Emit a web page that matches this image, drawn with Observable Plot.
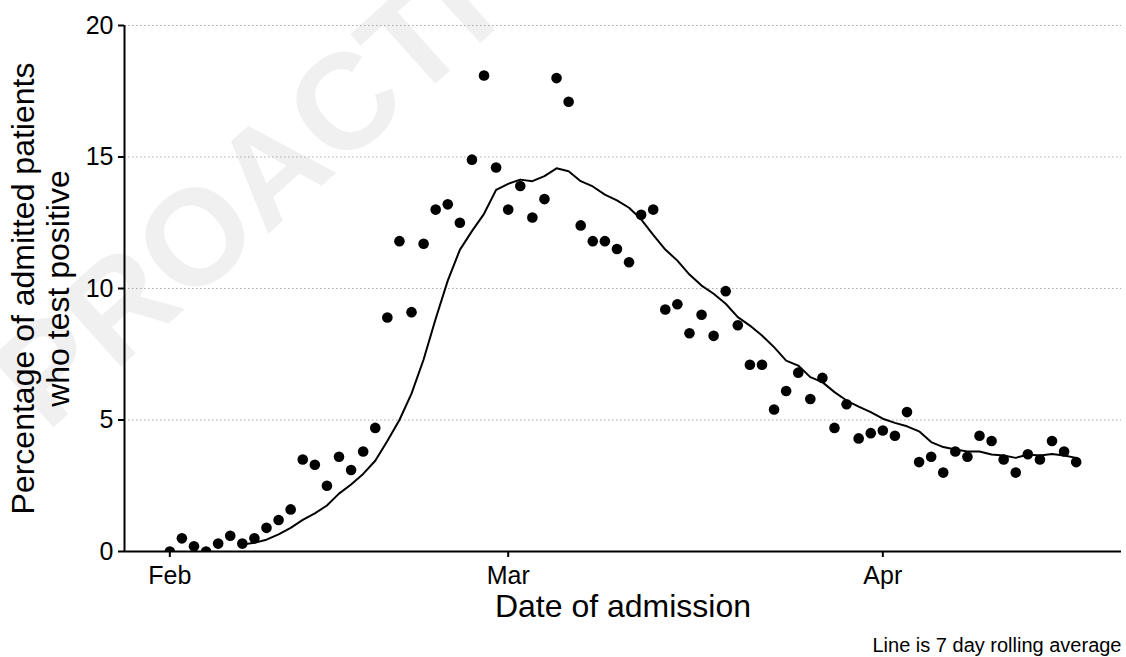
<!DOCTYPE html>
<html>
<head>
<meta charset="utf-8">
<script src="https://cdn.jsdelivr.net/npm/d3@7"></script>
<script src="https://cdn.jsdelivr.net/npm/@observablehq/plot@0.6"></script>
<style>
  html, body { margin: 0; padding: 0; background: white; }
  #chart { width: 1126px; height: 657px; }
</style>
</head>
<body>
<div id="chart"></div>
<script>
// ---- Data ----
const startDate = "2021-02-01"; // first daily point (Feb 1)
const pctPositive = [
  // Feb 1 - Feb 28
  0.0, 0.5, 0.2, 0.0, 0.3, 0.6, 0.3, 0.5, 0.9, 1.2, 1.6, 3.5, 3.3, 2.5,
  3.6, 3.1, 3.8, 4.7, 8.9, 11.8, 9.1, 11.7, 13.0, 13.2, 12.5, 14.9, 18.1, 14.6,
  // Mar 1 - Mar 31
  13.0, 13.9, 12.7, 13.4, 18.0, 17.1, 12.4, 11.8, 11.8, 11.5, 11.0, 12.8, 13.0, 9.2,
  9.4, 8.3, 9.0, 8.2, 9.9, 8.6, 7.1, 7.1, 5.4, 6.1, 6.8, 5.8, 6.6, 4.7, 5.6, 4.3, 4.5,
  // Apr 1 - Apr 17
  4.6, 4.4, 5.3, 3.4, 3.6, 3.0, 3.8, 3.6, 4.4, 4.2, 3.5, 3.0, 3.7, 3.5, 4.2, 3.8, 3.4
];
const lineStartDate = "2021-02-07"; // first day of the 7 day rolling average line
const rollingAvg = [
  // Feb 7 - Feb 28
  0.27, 0.33, 0.45, 0.65, 0.9, 1.2, 1.45, 1.75, 2.2, 2.55, 2.95, 3.45, 4.2, 5.0,
  6.0, 7.3, 8.85, 10.3, 11.47, 12.18, 12.84, 13.75,
  // Mar 1 - Mar 31
  13.98, 14.14, 14.08, 14.27, 14.57, 14.46, 14.08, 13.88, 13.57, 13.35, 13.07, 12.63,
  12.04, 11.48, 11.06, 10.53, 10.11, 9.8, 9.42, 8.91, 8.59, 8.21, 7.77, 7.26, 7.07,
  6.63, 6.44, 6.06, 5.74, 5.51, 5.3,
  // Apr 1 - Apr 17
  5.05, 4.89, 4.76, 4.57, 4.16, 3.97, 3.88, 3.8, 3.8, 3.69, 3.65, 3.56, 3.69, 3.65,
  3.71, 3.65, 3.56
];
const yTicks = [0, 5, 10, 15, 20];
const gridLines = [5, 10, 15, 20];
const xTickDates = ["2021-02-01", "2021-03-01", "2021-04-01"];
const xTickLabels = ["Feb", "Mar", "Apr"];
const yTitle = "Percentage of admitted patients\nwho test positive";
const xTitle = "Date of admission";
const captionText = "Line is 7 day rolling average";
const watermark = "PROACTIVE";

// ---- Build tables ----
const DAY = 864e5;
const start = new Date(startDate);
const points = pctPositive.map((v, i) => ({ date: d3.utcDay.offset(start, i), value: v }));
const lineStart = new Date(lineStartDate);
const roll = rollingAvg.map((v, i) => ({ date: d3.utcDay.offset(lineStart, i), value: v }));
const ticks = xTickDates.map(d => new Date(d));
const lastDate = points[points.length - 1].date;
const pad = 3.75 * DAY; // 5% expansion as in the original
const x0 = new Date(+start - pad);
const x1 = new Date(+lastDate + pad);

const FONT = "'Liberation Sans', Arial, Helvetica, sans-serif";

const chart = Plot.plot({
  width: 1126,
  height: 657,
  marginLeft: 124,
  marginRight: 5,
  marginTop: 25,
  marginBottom: 106,
  style: { fontFamily: FONT, fontSize: "25px", color: "black", background: "white", overflow: "visible" },
  x: { type: "utc", domain: [x0, x1] },
  y: { domain: [0, 20] },
  marks: [
    Plot.text([watermark], {
      text: d => d, frameAnchor: "top-left", dx: 188, dy: 110,
      textAnchor: "middle", lineAnchor: "middle",
      rotate: -42, fontSize: 136, fontWeight: "bold", fill: "#f0f0f0"
    }),
    Plot.ruleY(gridLines, { stroke: "#aaaaaa", strokeWidth: 1, strokeDasharray: "1.5,2.5" }),
    Plot.line(roll, { x: "date", y: "value", stroke: "black", strokeWidth: 2 }),
    Plot.dot(points, { x: "date", y: "value", r: 5.3, fill: "black", stroke: "none", clip: true }),
    Plot.ruleY([0], { stroke: "black", strokeWidth: 2 }),
    Plot.ruleX([x0], { stroke: "black", strokeWidth: 2 }),
    Plot.axisY({
      ticks: yTicks, tickSize: 6, tickPadding: 5, label: null,
      fontSize: 25, strokeWidth: 2, fill: "black"
    }),
    Plot.axisX({
      ticks: ticks, tickSize: 6, tickPadding: 9, label: null,
      tickFormat: d => xTickLabels[ticks.findIndex(t => +t === +d)],
      fontSize: 25, strokeWidth: 2, fill: "black"
    }),
    Plot.text([yTitle], {
      text: d => d, frameAnchor: "left", rotate: -90, dx: -84,
      textAnchor: "middle", lineAnchor: "middle",
      fontSize: 32, lineHeight: 1.1, fill: "black"
    }),
    Plot.text([xTitle], {
      text: d => d, frameAnchor: "bottom", dy: 55,
      textAnchor: "middle", lineAnchor: "middle",
      fontSize: 32, fill: "black"
    }),
    Plot.text([captionText], {
      text: d => d, frameAnchor: "bottom-right", dy: 94,
      textAnchor: "end", lineAnchor: "middle",
      fontSize: 20, fill: "black"
    })
  ]
});
document.getElementById("chart").appendChild(chart);
</script>
</body>
</html>
